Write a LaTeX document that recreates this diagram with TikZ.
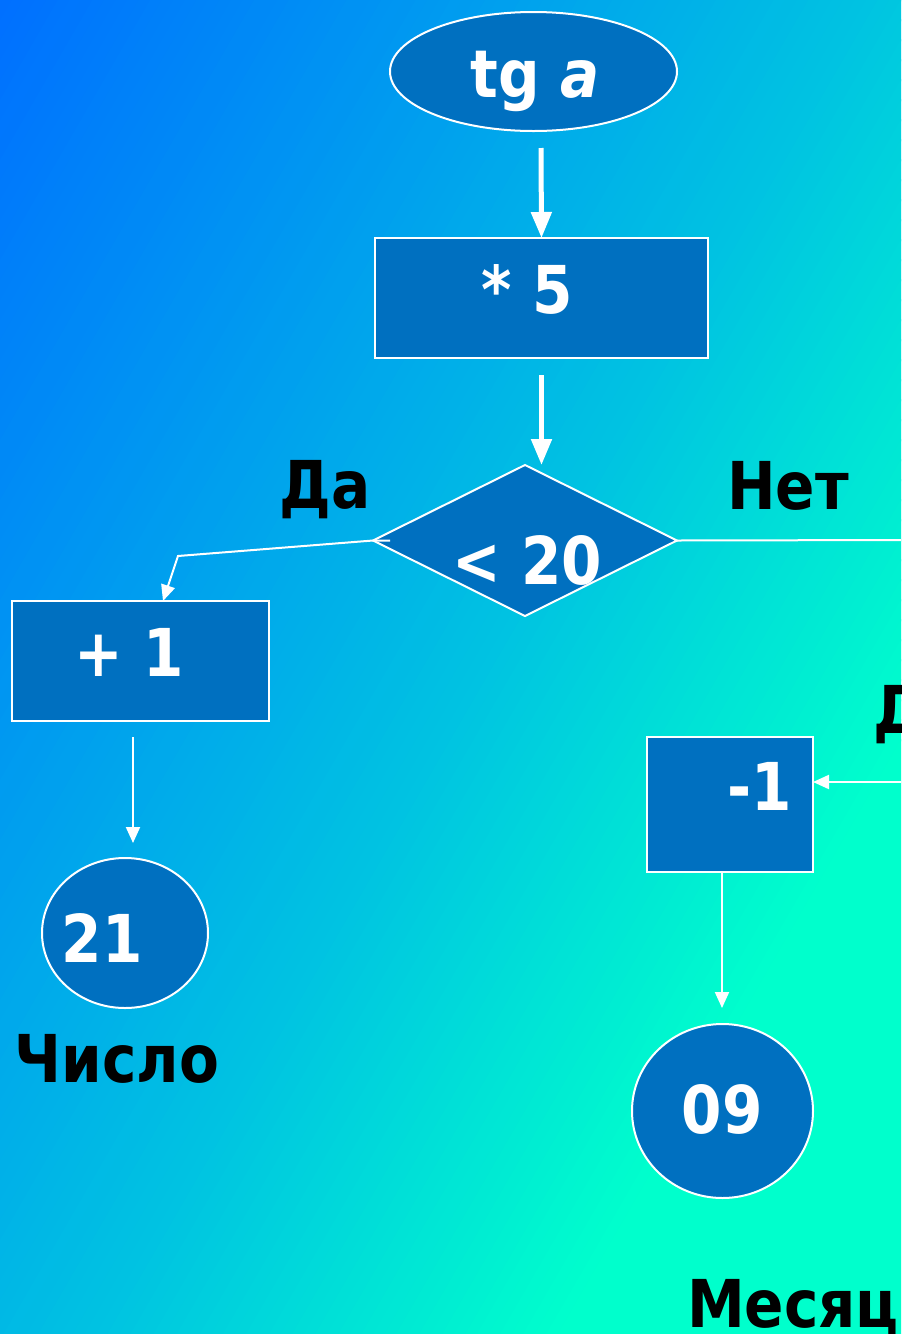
\documentclass[tikz,border=0pt]{standalone}
\usepackage{fontspec}
\setmainfont{DejaVu Sans}[FakeStretch=0.88]
\usetikzlibrary{shapes.geometric,arrows.meta,calc}
\definecolor{bgA}{HTML}{0070FF}
\definecolor{bgB}{HTML}{00C2E2}
\definecolor{bgC}{HTML}{00FFCC}
\definecolor{boxblue}{HTML}{0070C0}
\begin{document}
\begin{tikzpicture}[x=0.5pt,y=-0.5pt,
  shapebox/.style={draw=white, line width=1pt, fill=boxblue, inner sep=0pt, outer sep=0pt},
  wtext/.style={text=white, font=\fontsize{33}{40}\selectfont\bfseries, anchor=base, inner sep=0pt},
  btext/.style={text=black, font=\fontsize{33}{40}\selectfont\bfseries, anchor=base, inner sep=0pt},
  thickarrow/.style={draw=white, line width=2.5pt, -{Triangle[length=13pt,width=10pt]}},
  thinarrow/.style={draw=white, line width=1pt, -{Triangle[length=8pt,width=7pt]}},
  thinline/.style={draw=white, line width=1pt}]
\useasboundingbox (0,0) rectangle (901,1334);
\clip (0,0) rectangle (901,1334);
% background gradient
\begin{scope}[rotate=-30]
  \fill[bgA] (-200,-800) rectangle (1,1400);
  \foreach \i in {0,...,73}{
    \pgfmathtruncatemacro\pc{round(\i*100/74)}
    \fill[bgB!\pc!bgA] (\i*10,-800) rectangle (\i*10+11,1400);
  }
  \foreach \i in {0,...,40}{
    \pgfmathtruncatemacro\pc{round(\i*100/41)}
    \fill[bgC!\pc!bgB] (740+\i*10,-800) rectangle (740+\i*10+11,1400);
  }
  \fill[bgC] (1150,-800) rectangle (1800,1400);
\end{scope}
% shapes
\node[shapebox, ellipse, minimum width=143.5pt, minimum height=59.5pt] (e) at (533.5,71.5) {};
\node[wtext] (te) at (535,97) {tg \textit{a}};
\node[shapebox, rectangle, minimum width=166.5pt, minimum height=60pt] (s5) at (541.5,298) {};
\node[wtext] (ts5) at (527,313) {* 5};
\node[shapebox, diamond, minimum width=152pt, minimum height=75.5pt] (d) at (525,540.5) {};
\node[wtext] (td) at (527,584) {< 20};
\node[shapebox, rectangle, minimum width=128.5pt, minimum height=60pt] (p1) at (140.5,661) {};
\node[wtext] (tp1) at (129,676) {+ 1};
\node[shapebox, ellipse, minimum width=83pt, minimum height=75pt] (c21) at (125,933) {};
\node[wtext] (tc21) at (102,962) {21};
\node[shapebox, rectangle, minimum width=83pt, minimum height=67.5pt] (m1) at (730,804.5) {};
\node[wtext] (tm1) at (760,810) {-1};
\node[shapebox, ellipse, minimum width=90.5pt, minimum height=87pt] (c09) at (722.5,1111) {};
\node[wtext] (tc09) at (722,1133) {09};
% labels
\node[btext] (lda) at (325,508) {Да};
\node[btext] (lnet) at (788,509) {Нет};
\node[btext] (lda2) at (919,733) {Да};
\node[btext] (lchislo) at (117,1082) {Число};
\node[btext] (lmes) at (793,1327) {Месяц};
% connectors
\draw[thickarrow] ($(e.south)+(7.5,17)$) -- (s5.north);
\draw[thickarrow] ($(s5.south)+(0,17)$) -- ($(d.north)+(16.5,0)$);
\coordinate (k1) at (178,556);
\draw[thinarrow] ($(d.west)+(17,0)$) -- (d.west) -- (k1) -- ($(p1.north west)+(151,0)$);
\coordinate (r1) at (910,540);
\draw[thinline] (d.east) -- (r1);
\coordinate (r2) at (910,782);
\draw[thinarrow] (r2) -- (r2 -| m1.east);
\draw[thinarrow] ($(p1.south)+(-7.5,16)$) -- ($(c21.north)+(8,-15)$);
\draw[thinarrow] ($(m1.south)+(-8,0)$) -- ($(c09.north)+(-0.5,-16)$);
\end{tikzpicture}
\end{document}
